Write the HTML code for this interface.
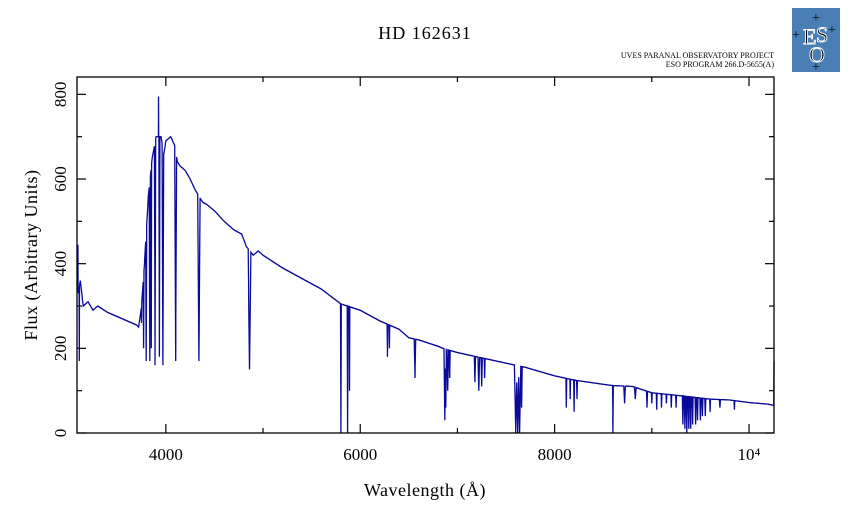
<!DOCTYPE html>
<html><head><meta charset="utf-8"><style>
body{margin:0;background:#fff;width:851px;height:511px;overflow:hidden}
svg text{font-family:"Liberation Serif",serif;fill:#000}
</style></head><body>
<svg width="851" height="511">
<text x="425" y="39" font-size="18" text-anchor="middle" letter-spacing="1">HD 162631</text>
<text x="774" y="58" font-size="8" text-anchor="end">UVES PARANAL OBSERVATORY PROJECT</text>
<text x="774" y="67" font-size="8" text-anchor="end">ESO PROGRAM 266.D-5655(A)</text>
<g>
<rect x="792" y="8" width="48" height="64" fill="#4a7fb5"/>
<text x="803" y="44" font-size="22" fill="none" stroke="#fff" stroke-width="0.9">E</text>
<text x="816" y="42" font-size="22" fill="none" stroke="#fff" stroke-width="0.9">S</text>
<text x="809" y="62" font-size="22" fill="none" stroke="#fff" stroke-width="0.9">O</text>
<text x="812" y="22" font-size="14" fill="#fff">+</text>
<text x="792" y="39" font-size="14" fill="#fff">+</text>
<text x="828" y="34" font-size="14" fill="#fff">+</text>
<text x="812" y="71" font-size="14" fill="#fff">+</text>
</g>
<g id="axes"></g>
<polyline id="spec" fill="none" stroke="#0a0a9a" stroke-width="1.3"/>
<rect x="77" y="77" width="697" height="356" fill="none" stroke="#000" stroke-width="1.3"/>
<text transform="translate(37,255) rotate(-90)" font-size="18" text-anchor="middle" letter-spacing="0.5">Flux (Arbitrary Units)</text>
<text x="425" y="496" font-size="18" text-anchor="middle" letter-spacing="0.5">Wavelength (Å)</text>
</svg>
<script>
const contWl=[3086,3100,3120,3150,3200,3250,3300,3400,3500,3600,3700,3720,3750,3780,3820,3860,3900,3950,3980,4000,4050,4090,4120,4150,4200,4250,4300,4380,4420,4500,4600,4700,4780,4830,4900,4950,5000,5200,5400,5600,5800,6000,6200,6400,6500,6600,6800,6850,7000,7200,7400,7700,8000,8200,8500,8600,8800,9000,9300,9600,9800,10000,10200,10257];
const contFlux=[380,330,360,300,310,290,300,285,275,265,255,250,300,400,560,650,700,700,660,690,700,680,640,630,620,600,575,545,540,525,500,480,470,440,420,430,420,390,365,340,305,290,265,245,225,220,205,200,190,180,170,155,135,125,115,112,110,95,88,80,78,72,68,65];
const lineWl=[3095,3110,3750,3771,3798,3835,3850,3889,3925,3934,3970,4101,4340,4861,5801,5870,5890,6280,6300,6563,6870,6880,6900,6920,7180,7220,7250,7280,7600,7620,7640,7660,8120,8160,8200,8230,8600,8720,8830,8950,9000,9050,9100,9150,9200,9250,9320,9340,9360,9380,9400,9420,9450,9470,9500,9520,9550,9600,9700,9850,10257];
const lineMin=[445,170,260,200,170,170,200,160,795,180,160,170,170,150,0,0,100,180,200,130,30,60,100,130,120,100,110,130,0,0,0,60,60,80,50,80,0,70,80,60,70,55,60,70,60,60,20,10,0,10,10,20,20,30,30,40,40,50,60,55,170];
const lineHalfWidth=[2,2,3,4,5,6,3,7,2,5,8,10,12,14,4,4,3,4,3,8,8,6,8,6,6,8,6,5,14,12,12,6,4,3,4,4,4,8,8,5,4,4,4,4,4,4,6,5,6,5,5,5,5,5,5,5,5,4,5,4,2];
const xTicks=[4000,6000,8000,10000];
const xTickLabels=["4000","6000","8000","10⁴"];
const yTicks=[0,200,400,600,800];
const X0=3086,X1=10257,Y0=0,Y1=841;
const px=w=>77+(w-X0)/(X1-X0)*697;
const py=f=>433-(f-Y0)/(Y1-Y0)*356;
function cont(w){for(let i=1;i<contWl.length;i++){if(w<=contWl[i]){const t=(w-contWl[i-1])/(contWl[i]-contWl[i-1]);return contFlux[i-1]+t*(contFlux[i]-contFlux[i-1]);}}return contFlux[contFlux.length-1];}
const pts=[];
for(let w=X0;w<=X1;w+=1){let f=cont(w);for(let j=0;j<lineWl.length;j++){const d=Math.abs(w-lineWl[j]);if(d<lineHalfWidth[j]){const g=cont(w)+(lineMin[j]-cont(w))*(1-d/lineHalfWidth[j]);if(lineMin[j]>cont(w)?g>f:g<f)f=g;}}pts.push(px(w).toFixed(1)+","+py(f).toFixed(1));}
document.getElementById('spec').setAttribute('points',pts.join(' '));
const ax=document.getElementById('axes');const NS="http://www.w3.org/2000/svg";
function ln(x1,y1,x2,y2,name){const l=document.createElementNS(NS,'line');l.setAttribute('x1',x1);l.setAttribute('y1',y1);l.setAttribute('x2',x2);l.setAttribute('y2',y2);l.setAttribute('stroke','#000');l.setAttribute('stroke-width','1.2');


ax.appendChild(l);}
function tx(x,y,s,anchor,rot,name){const t=document.createElementNS(NS,'text');t.setAttribute('x',x);t.setAttribute('y',y);t.setAttribute('font-size','17');t.setAttribute('text-anchor',anchor);if(rot)t.setAttribute('transform','rotate(-90 '+x+' '+y+')');t.textContent=s;


ax.appendChild(t);}
for(let w=4000;w<=10000;w+=1000){const x=px(w),L=(w%2000===0)?9:5;ln(x,433,x,433-L,'x-tick');ln(x,77,x,77+L,'x-tick-top');}
xTicks.forEach((w,i)=>tx(px(w),460,xTickLabels[i],'middle',false,'x-tick-label'));
for(let f=0;f<=800;f+=100){const y=py(f),L=(f%200===0)?9:5;ln(77,y,77+L,y,'y-tick');ln(774,y,774-L,y,'y-tick-right');}
yTicks.forEach(f=>tx(66,py(f),String(f),'middle',true,'y-tick-label'));
</script>
</body></html>
